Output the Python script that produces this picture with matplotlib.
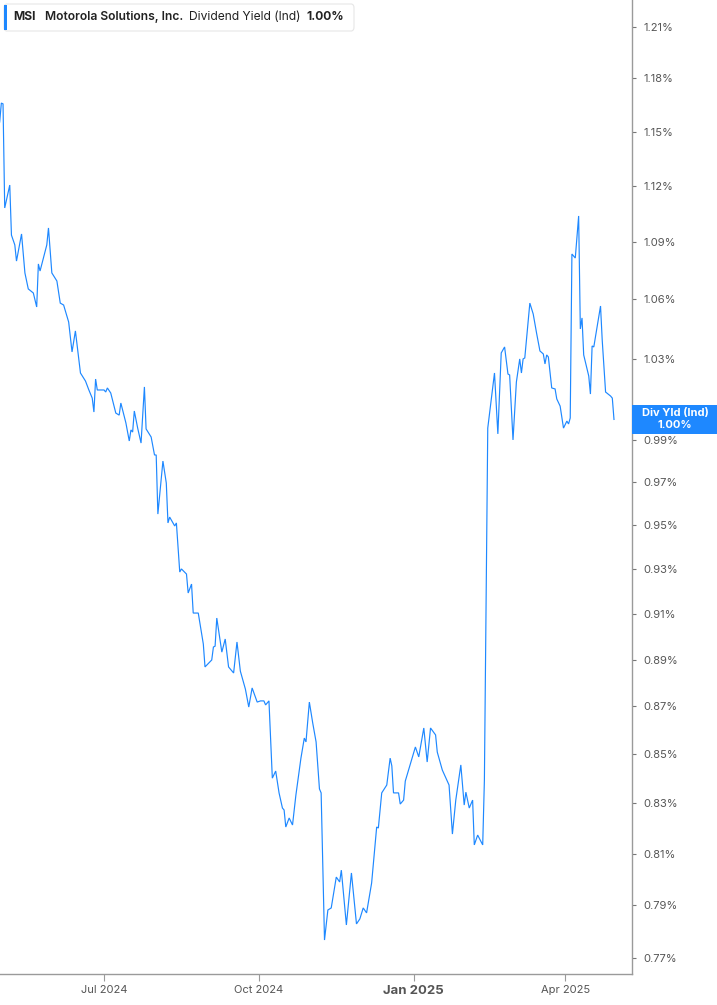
import matplotlib
matplotlib.use("Agg")
import matplotlib.pyplot as plt
import matplotlib.transforms as mtransforms
from matplotlib.patches import Rectangle, FancyBboxPatch
import pandas as pd

# ---------------- data ----------------
dates = [
    "2024-04-30", "2024-05-01", "2024-05-02", "2024-05-03", "2024-05-06", "2024-05-07",
    "2024-05-09", "2024-05-10", "2024-05-13", "2024-05-15", "2024-05-17", "2024-05-20",
    "2024-05-22", "2024-05-23", "2024-05-24", "2024-05-28", "2024-05-29", "2024-05-31",
    "2024-06-03", "2024-06-05", "2024-06-07", "2024-06-10", "2024-06-12", "2024-06-14",
    "2024-06-17", "2024-06-20", "2024-06-22", "2024-06-24", "2024-06-25", "2024-06-26",
    "2024-06-27", "2024-07-01", "2024-07-02", "2024-07-03", "2024-07-05", "2024-07-08",
    "2024-07-10", "2024-07-11", "2024-07-14", "2024-07-16", "2024-07-17", "2024-07-18",
    "2024-07-19", "2024-07-21", "2024-07-23", "2024-07-25", "2024-07-26", "2024-07-29",
    "2024-07-31", "2024-08-01", "2024-08-02", "2024-08-05", "2024-08-07", "2024-08-08",
    "2024-08-09", "2024-08-12", "2024-08-13", "2024-08-15", "2024-08-16", "2024-08-19",
    "2024-08-20", "2024-08-22", "2024-08-23", "2024-08-26", "2024-08-29", "2024-08-30",
    "2024-09-03", "2024-09-04", "2024-09-05", "2024-09-06", "2024-09-09", "2024-09-11",
    "2024-09-13", "2024-09-16", "2024-09-18", "2024-09-20", "2024-09-23", "2024-09-25",
    "2024-09-27", "2024-09-30", "2024-10-02", "2024-10-04", "2024-10-05", "2024-10-07",
    "2024-10-09", "2024-10-11", "2024-10-13", "2024-10-15", "2024-10-16", "2024-10-17",
    "2024-10-19", "2024-10-21", "2024-10-23", "2024-10-26", "2024-10-28", "2024-10-29",
    "2024-10-31", "2024-11-02", "2024-11-04", "2024-11-06", "2024-11-07", "2024-11-09",
    "2024-11-11", "2024-11-13", "2024-11-16", "2024-11-18", "2024-11-19", "2024-11-22",
    "2024-11-25", "2024-11-28", "2024-11-30", "2024-12-02", "2024-12-04", "2024-12-07",
    "2024-12-10", "2024-12-11", "2024-12-13", "2024-12-16", "2024-12-18", "2024-12-19",
    "2024-12-20", "2024-12-23", "2024-12-24", "2024-12-26", "2024-12-27", "2025-01-02",
    "2025-01-04", "2025-01-07", "2025-01-09", "2025-01-11", "2025-01-14", "2025-01-15",
    "2025-01-18", "2025-01-22", "2025-01-24", "2025-01-26", "2025-01-29", "2025-01-31",
    "2025-02-01", "2025-02-03", "2025-02-05", "2025-02-06", "2025-02-08", "2025-02-11",
    "2025-02-12", "2025-02-14", "2025-02-18", "2025-02-20", "2025-02-22", "2025-02-24",
    "2025-02-26", "2025-02-27", "2025-03-01", "2025-03-03", "2025-03-05", "2025-03-06",
    "2025-03-07", "2025-03-08", "2025-03-11", "2025-03-13", "2025-03-15", "2025-03-17",
    "2025-03-19", "2025-03-20", "2025-03-21", "2025-03-22", "2025-03-24", "2025-03-26",
    "2025-03-27", "2025-03-29", "2025-03-31", "2025-04-02", "2025-04-03", "2025-04-04",
    "2025-04-05", "2025-04-07", "2025-04-09", "2025-04-10", "2025-04-11", "2025-04-12",
    "2025-04-15", "2025-04-16", "2025-04-17", "2025-04-18", "2025-04-22", "2025-04-23",
    "2025-04-25", "2025-04-28", "2025-04-29", "2025-04-30",
]

div_yield = [
    1.1553, 1.1660, 1.1655, 1.1081, 1.1205, 1.0936,
    1.0884, 1.0799, 1.0942, 1.0737, 1.0654, 1.0633,
    1.0561, 1.0784, 1.0747, 1.0884, 1.0974, 1.0737,
    1.0695, 1.0581, 1.0571, 1.0484, 1.0333, 1.0439,
    1.0228, 1.0188, 1.0144, 1.0104, 1.0036, 1.0198,
    1.0144, 1.0144, 1.0134, 1.0154, 1.0129, 1.0031,
    1.0021, 1.0080, 0.9983, 0.9896, 0.9949, 0.9939,
    1.0041, 0.9958, 0.9886, 1.0159, 0.9954, 0.9915,
    0.9829, 0.9829, 0.9551, 0.9800, 0.9696, 0.9510,
    0.9537, 0.9496, 0.9510, 0.9286, 0.9300, 0.9277,
    0.9192, 0.9232, 0.9103, 0.9103, 0.8967, 0.8868,
    0.8898, 0.8954, 0.8958, 0.9081, 0.8932, 0.8989,
    0.8868, 0.8842, 0.8976, 0.8850, 0.8773, 0.8697,
    0.8778, 0.8718, 0.8723, 0.8723, 0.8706, 0.8723,
    0.8402, 0.8431, 0.8342, 0.8281, 0.8273, 0.8205,
    0.8241, 0.8213, 0.8333, 0.8484, 0.8567, 0.8551,
    0.8718, 0.8630, 0.8551, 0.8358, 0.8342, 0.7767,
    0.7881, 0.7889, 0.8008, 0.7989, 0.8035, 0.7824,
    0.8024, 0.7828, 0.7847, 0.7889, 0.7870, 0.7985,
    0.8205, 0.8201, 0.8342, 0.8374, 0.8484, 0.8452,
    0.8342, 0.8342, 0.8297, 0.8313, 0.8390, 0.8530,
    0.8489, 0.8609, 0.8468, 0.8609, 0.8580, 0.8509,
    0.8435, 0.8374, 0.8177, 0.8313, 0.8456, 0.8293,
    0.8345, 0.8281, 0.8313, 0.8134, 0.8173, 0.8134,
    0.8394, 0.9958, 1.0228, 0.9930, 1.0328, 1.0358,
    1.0223, 1.0218, 0.9901, 1.0183, 1.0298, 1.0228,
    1.0298, 1.0303, 1.0581, 1.0525, 1.0428, 1.0338,
    1.0323, 1.0273, 1.0318, 1.0308, 1.0154, 1.0149,
    1.0100, 1.0065, 0.9958, 0.9992, 0.9978, 1.0007,
    1.0836, 1.0815, 1.1038, 1.0449, 1.0505, 1.0318,
    1.0213, 1.0124, 1.0363, 1.0358, 1.0566, 1.0393,
    1.0134, 1.0114, 1.0104, 1.0000,
]

y_ticks = [1.21, 1.18, 1.15, 1.12, 1.09, 1.06, 1.03, 1.00, 0.99, 0.97, 0.95,
           0.93, 0.91, 0.89, 0.87, 0.85, 0.83, 0.81, 0.79, 0.77]
y_tick_labels = ["1.21%", "1.18%", "1.15%", "1.12%", "1.09%", "1.06%", "1.03%", "",
                 "0.99%", "0.97%", "0.95%", "0.93%", "0.91%", "0.89%", "0.87%",
                 "0.85%", "0.83%", "0.81%", "0.79%", "0.77%"]
x_tick_dates = ["2024-07-01", "2024-10-01", "2025-01-01", "2025-04-01"]
x_tick_labels = ["Jul 2024", "Oct 2024", "Jan 2025", "Apr 2025"]

ticker = "MSI"
company = "Motorola Solutions, Inc."
metric = "Dividend Yield (Ind)"
last_value = "1.00%"
badge_title = "Div Yld (Ind)"

# ---------------- figure ----------------
W, H = 717, 1005
plt.rcParams['font.family'] = ['Inter', 'DejaVu Sans']
fig = plt.figure(figsize=(W / 100, H / 100), dpi=100)
fig.patch.set_facecolor("white")

ax_left, ax_right, ax_top, ax_bottom = 0, 632, 0, 974
ax = fig.add_axes([ax_left / W, 1 - ax_bottom / H, (ax_right - ax_left) / W,
                   (ax_bottom - ax_top) / H])

line_color = "#1E88FF"
x = pd.to_datetime(dates)
ax.plot(x, div_yield, color=line_color, lw=0.85, solid_joinstyle="miter")

ax.set_yscale("log")
ax.set_ylim(0.7640, 1.2258)
x0 = pd.Timestamp("2024-07-01") - pd.Timedelta(days=61.8)
x1 = pd.Timestamp("2024-07-01") + pd.Timedelta(days=313.7)
ax.set_xlim(x0, x1)

# spines
for s in ["top", "left"]:
    ax.spines[s].set_visible(False)
ax.spines["right"].set_color("#9a9a9a")
ax.spines["bottom"].set_color("#9a9a9a")
ax.spines["right"].set_linewidth(1.0)
ax.spines["bottom"].set_linewidth(1.0)

# y ticks on right
ax.yaxis.set_minor_locator(matplotlib.ticker.NullLocator())
ax.yaxis.tick_right()
ax.set_yticks(y_ticks)
ax.set_yticklabels(y_tick_labels)
ax.tick_params(axis="y", which="major", direction="out", length=3, width=0.8,
               color="#777777", labelcolor="#555555", labelsize=8, pad=5)

# x ticks
ax.set_xticks(pd.to_datetime(x_tick_dates))
ax.set_xticklabels(x_tick_labels)
ax.tick_params(axis="x", which="major", direction="out", length=5, width=0.8,
               color="#9a9a9a", labelcolor="#555555", labelsize=8, pad=3)
for lbl in ax.get_xticklabels():
    if lbl.get_text().startswith("Jan"):
        lbl.set_fontweight("bold")
        lbl.set_fontsize(9.5)

# ---------------- header box ----------------
def fx(px):
    return px / W

def fy(py):
    return 1 - py / H

hdr = FancyBboxPatch((fx(4), fy(31)), fx(354) - fx(4), fy(4) - fy(31),
                     boxstyle="round,pad=0,rounding_size=0.004",
                     transform=fig.transFigure, facecolor="white",
                     edgecolor="#e6e6e6", lw=0.8, zorder=10)
fig.add_artist(hdr)
fig.add_artist(Rectangle((fx(4), fy(30)), fx(3), fy(5) - fy(30),
                         transform=fig.transFigure, facecolor=line_color,
                         edgecolor="none", zorder=11))
ty = fy(17)
fig.text(fx(13), ty, ticker, fontsize=8.7, fontweight="bold", color="#222222",
         va="center", ha="left", zorder=12)
fig.text(fx(45), ty, company, fontsize=8.7, fontweight="semibold", color="#222222",
         va="center", ha="left", zorder=12)
fig.text(fx(189), ty, metric, fontsize=8.7, color="#222222",
         va="center", ha="left", zorder=12)
fig.text(fx(306), ty, last_value, fontsize=8.7, fontweight="bold", color="#222222",
         va="center", ha="left", zorder=12)

# ---------------- right value badge ----------------
trans = mtransforms.blended_transform_factory(fig.transFigure, ax.transData)
yc_disp = ax.transData.transform((0, 1.00))[1]
top_val = ax.transData.inverted().transform((0, yc_disp + 14.5))[1]
bot_val = ax.transData.inverted().transform((0, yc_disp - 14.5))[1]
badge = Rectangle((fx(632), bot_val), fx(717) - fx(632), top_val - bot_val,
                  transform=trans, facecolor="#1E88FF", edgecolor="none",
                  zorder=20, clip_on=False)
fig.add_artist(badge)
mid_x = fx(675)
up_val = ax.transData.inverted().transform((0, yc_disp + 6))[1]
dn_val = ax.transData.inverted().transform((0, yc_disp - 6))[1]
fig.text(mid_x, up_val, badge_title, transform=trans, fontsize=8, fontweight="bold",
         color="white", ha="center", va="center", zorder=21)
fig.text(mid_x, dn_val, last_value, transform=trans, fontsize=8, fontweight="bold",
         color="white", ha="center", va="center", zorder=21)

fig.savefig("out.png", dpi=100, facecolor="white")
